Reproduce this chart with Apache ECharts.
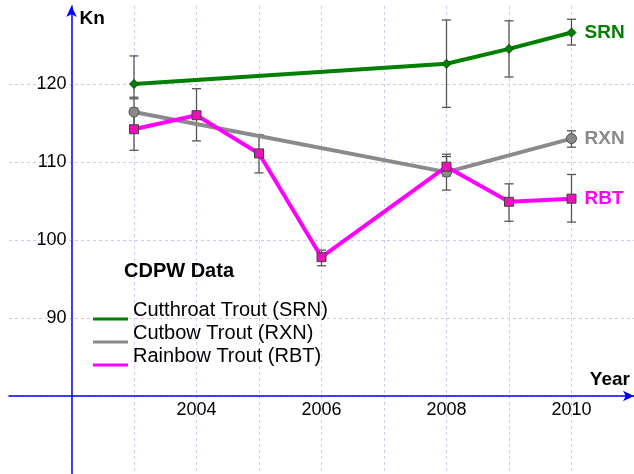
<!DOCTYPE html>
<html><head><meta charset="utf-8">
<script src="https://cdn.jsdelivr.net/npm/echarts@6/dist/echarts.min.js"></script>
<style>html,body{margin:0;padding:0;background:#fff}#c{width:634px;height:474px}</style>
</head><body><div id="c"></div>
<script>
// ---- data ----
const srnYears = [2003, 2008, 2009, 2010];
const srnValues = [120.0, 122.6, 124.5, 126.6];
const srnLow = [118.3, 117.0, 120.9, 125.0];
const srnHigh = [123.6, 128.2, 128.1, 128.3];

const rxnYears = [2003, 2008, 2010];
const rxnValues = [116.4, 108.7, 113.0];
const rxnLow = [114.6, 106.4, 111.9];
const rxnHigh = [118.1, 111.0, 114.0];

const rbtYears = [2003, 2004, 2005, 2006, 2008, 2009, 2010];
const rbtValues = [114.2, 116.0, 111.1, 97.8, 109.4, 104.9, 105.3];
const rbtLow = [111.5, 112.7, 108.6, 96.7, 108.2, 102.4, 102.3];
const rbtHigh = [116.9, 119.4, 113.5, 98.7, 110.7, 107.2, 108.4];

const seriesNames = ['Cutthroat Trout (SRN)', 'Cutbow Trout (RXN)', 'Rainbow Trout (RBT)'];
const seriesCodes = ['SRN', 'RXN', 'RBT'];
const legendTitle = 'CDPW Data';
const xTickLabels = [2004, 2006, 2008, 2010];
const yTickLabels = [90, 100, 110, 120];
const xName = 'Year';
const yName = 'Kn';

// ---- styles ----
const FONT = 'Liberation Sans, Arial, sans-serif';
const lineColors = ['#008000', '#8a8a8a', '#ff00ff'];
const markerFill = ['#008000', '#8a8a8a', '#ee11bb'];
const markerBorder = ['#004d00', '#505050', '#404040'];
const symbols = ['diamond', 'circle', 'rect'];
const symbolSizes = [9, 10, 9];

function pairs(xs, ys) { return xs.map((x, i) => [x, ys[i]]); }
function triples(xs, lo, hi) { return xs.map((x, i) => [x, lo[i], hi[i]]); }

function errorBar(params, api) {
  const x = api.value(0), lo = api.value(1), hi = api.value(2);
  const a = api.coord([x, lo]), b = api.coord([x, hi]);
  const w = 4.5;
  const st = { stroke: '#555', lineWidth: 1.3 };
  return { type: 'group', children: [
    { type: 'line', shape: { x1: a[0], y1: a[1], x2: b[0], y2: b[1] }, style: st },
    { type: 'line', shape: { x1: a[0] - w, y1: a[1], x2: a[0] + w, y2: a[1] }, style: st },
    { type: 'line', shape: { x1: b[0] - w, y1: b[1], x2: b[0] + w, y2: b[1] }, style: st }
  ]};
}

const groups = [
  [srnYears, srnValues, srnLow, srnHigh],
  [rxnYears, rxnValues, rxnLow, rxnHigh],
  [rbtYears, rbtValues, rbtLow, rbtHigh]
];

const series = [];
groups.forEach((g, i) => {
  series.push({
    type: 'custom', name: seriesCodes[i] + ' err', renderItem: errorBar,
    data: triples(g[0], g[2], g[3]), encode: { x: 0, y: [1, 2] }, z: 1, silent: true
  });
});
groups.forEach((g, i) => {
  series.push({
    type: 'line', name: seriesNames[i], data: pairs(g[0], g[1]),
    symbol: symbols[i], symbolSize: symbolSizes[i], showAllSymbol: true,
    lineStyle: { color: lineColors[i], width: 4 },
    itemStyle: { color: markerFill[i], borderColor: markerBorder[i], borderWidth: 1 },
    endLabel: { show: true, formatter: seriesCodes[i], color: lineColors[i], fontFamily: FONT,
      fontWeight: 'bold', fontSize: 19, distance: 13 },
    z: 3
  });
});

const chart = echarts.init(document.getElementById('c'), null, { renderer: 'canvas' });
chart.setOption({
  animation: false,
  backgroundColor: '#fff',
  textStyle: { fontFamily: FONT },
  title: { text: legendTitle, left: 124, top: 261, padding: 0,
    textStyle: { fontSize: 20, fontWeight: 'bold', color: '#000', fontFamily: FONT } },
  legend: {
    data: seriesNames.map((n, i) => ({ name: n, itemStyle: { color: lineColors[i] } })),
    orient: 'vertical', left: 93, top: 299.5, padding: 0,
    itemWidth: 35, itemHeight: 21, itemGap: 2,
    icon: 'path://M0,0M0,18L35,18L35,21L0,21Z',
    itemStyle: { borderWidth: 0 },
    textStyle: { fontSize: 20, color: '#000', fontFamily: FONT },
    selectedMode: false
  },
  grid: { left: 9, right: 0, top: 6, bottom: 0, containLabel: false, outerBoundsMode: 'none' },
  xAxis: {
    type: 'value', min: 2001, max: 2011, interval: 1, offset: -78,
    name: xName, nameLocation: 'end', nameGap: -4,
    nameTextStyle: { fontSize: 19, fontWeight: 'bold', color: '#000', align: 'right',
      verticalAlign: 'bottom', lineHeight: 32, fontFamily: FONT },
    axisLine: { onZero: false, symbol: ['none', 'arrow'], symbolSize: [8, 11],
      lineStyle: { color: '#0000ff', width: 1.5 } },
    axisTick: { show: false },
    axisLabel: { fontSize: 18, color: '#000', margin: 5, fontFamily: FONT,
      formatter: v => xTickLabels.includes(v) ? String(v) : '' },
    splitLine: { show: true, showMinLine: false, showMaxLine: false,
      lineStyle: { color: '#cacaf2', type: [3, 3], width: 1 } }
  },
  yAxis: {
    type: 'value', min: 70, max: 130, interval: 10, offset: -62.5,
    name: yName, nameLocation: 'end', nameGap: -13,
    nameTextStyle: { fontSize: 19, fontWeight: 'bold', color: '#000', align: 'left',
      verticalAlign: 'middle', padding: [0, 0, 0, 8], fontFamily: FONT },
    axisLine: { onZero: false, symbol: ['none', 'arrow'], symbolSize: [8, 11],
      lineStyle: { color: '#0000ff', width: 1.5 } },
    axisTick: { show: false },
    axisLabel: { fontSize: 18, color: '#000', margin: 5, fontFamily: FONT,
      formatter: v => yTickLabels.includes(v) ? String(v) : '' },
    splitLine: { show: true, showMinLine: false, showMaxLine: false,
      lineStyle: { color: '#cacaf2', type: [3, 3], width: 1 } }
  },
  series: series
});
</script>
</body></html>
